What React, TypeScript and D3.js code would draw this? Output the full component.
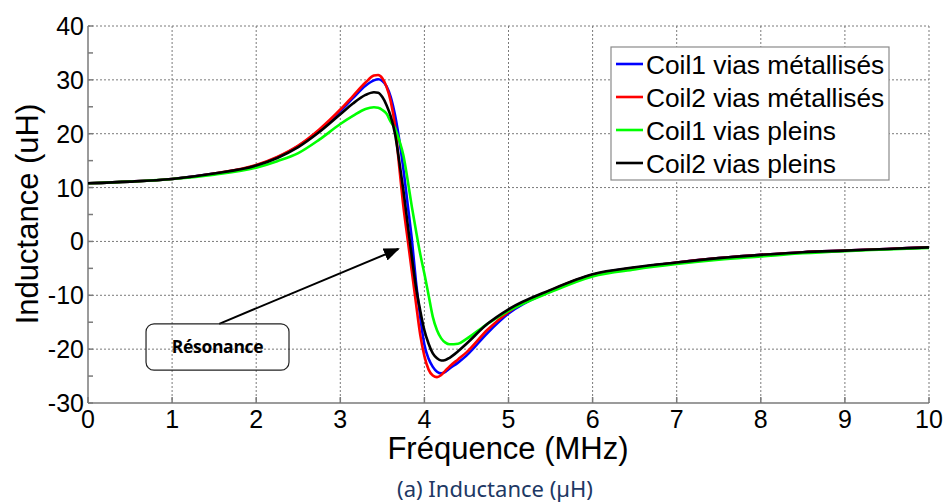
import * as d3 from 'd3';
import { useEffect, useRef } from 'react';

// frequency samples (MHz), shared by all four series
const freqs = [
  0, 0.5, 1, 1.5, 2, 2.25, 2.5, 2.75, 3, 3.15, 3.3, 3.4, 3.45, 3.5, 3.55, 3.6, 3.65, 3.7, 3.75, 3.8, 3.85, 3.9,
  3.95, 4, 4.05, 4.1, 4.15, 4.2, 4.25, 4.3, 4.4, 4.5, 4.75, 5, 5.5, 6, 6.5, 7, 7.5, 8, 8.5, 9, 9.5, 10,
];

// inductance (uH)
const coil1Metal = [
  10.8, 11.1, 11.6, 12.6, 14.1, 15.6, 17.7, 20.6, 24.2, 26.6, 28.9, 29.9, 30.1, 29.8, 28.8, 26.8, 23.5, 19.0, 13.5,
  7.0, 0.5, -7.5, -14.0, -19.2, -21.8, -23.3, -24.2, -24.5, -24.2, -23.6, -22.5, -21.2, -17.0, -13.4, -9.2, -6.2,
  -4.9, -3.9, -3.1, -2.5, -2.0, -1.7, -1.4, -1.1,
];
const coil2Metal = [
  10.8, 11.1, 11.6, 12.6, 14.2, 15.7, 17.8, 20.8, 24.5, 27.0, 29.5, 30.8, 30.9, 30.3, 28.7, 26.0, 21.5, 14.0, 6.5,
  0.5, -5.5, -11.5, -17.3, -21.3, -23.8, -24.9, -25.2, -24.8, -24.0, -23.2, -21.9, -20.6, -16.4, -13.1, -9.1, -6.2,
  -4.9, -3.9, -3.1, -2.5, -2.0, -1.7, -1.4, -1.1,
];
const coil1Plein = [
  10.8, 11.1, 11.6, 12.4, 13.7, 14.9, 16.4, 18.9, 21.8, 23.3, 24.6, 24.9, 24.8, 24.4, 23.7, 22.2, 21.0, 18.8, 16.0,
  11.5, 6.5, 2.0, -2.3, -6.0, -10.0, -14.0, -16.5, -18.0, -18.8, -19.1, -19.0, -18.1, -15.3, -12.9, -9.4, -6.5,
  -5.2, -4.2, -3.4, -2.8, -2.2, -1.8, -1.5, -1.2,
];
const coil2Plein = [
  10.8, 11.1, 11.6, 12.6, 14.1, 15.5, 17.5, 20.3, 23.6, 25.6, 27.2, 27.7, 27.6, 26.8, 25.3, 23.2, 20.0, 15.0, 9.5,
  3.3, -2.8, -8.5, -12.8, -16.5, -19.0, -20.8, -21.7, -22.1, -22.0, -21.6, -20.4, -19.0, -15.3, -12.6, -9.0, -6.1,
  -4.8, -3.9, -3.1, -2.5, -2.0, -1.7, -1.4, -1.1,
];

const seriesNames = ['Coil1 vias métallisés', 'Coil2 vias métallisés', 'Coil1 vias pleins', 'Coil2 vias pleins'];
const seriesValues = [coil1Metal, coil2Metal, coil1Plein, coil2Plein];
const seriesColors = ['#0000ff', '#ff0000', '#00ff00', '#000000'];

const xTicks = [0, 1, 2, 3, 4, 5, 6, 7, 8, 9, 10];
const yTicks = [-30, -20, -10, 0, 10, 20, 30, 40];
const yMinorTicks = [-25, -15, -5, 5, 15, 25, 35];

// annotation in data units (MHz, uH)
const noteText = 'Résonance';
const noteBox = { f0: 0.69, f1: 2.39, l0: -15.3, l1: -23.9 };
const noteArrow = { f0: 1.56, l0: -15.3, f1: 3.69, l1: -1.4 };

export default function App() {
  const svgRef = useRef<SVGSVGElement>(null);
  const width = 947;
  const height = 503;

  useEffect(() => {
    const margin = { top: 26, right: 18, bottom: 100, left: 88 };
    const svg = d3.select(svgRef.current);
    svg.selectAll('*').remove();

    const x = d3.scaleLinear().domain([0, 10]).range([margin.left, width - margin.right]);
    const y = d3.scaleLinear().domain([-30, 40]).range([height - margin.bottom, margin.top]);
    const font = '"Liberation Sans", Arial, sans-serif';

    svg.append('rect').attr('width', width).attr('height', height).attr('fill', '#fff');

    // dotted grid
    const grid = svg.append('g').attr('stroke', '#7a7a7a').attr('stroke-width', 1).attr('stroke-dasharray', '2,2');
    xTicks.slice(1).forEach((t) => {
      grid.append('line').attr('x1', x(t)).attr('x2', x(t)).attr('y1', y(40)).attr('y2', y(-30));
    });
    yTicks.slice(1).forEach((t) => {
      grid.append('line').attr('x1', x(0)).attr('x2', x(10)).attr('y1', y(t)).attr('y2', y(t));
    });

    // axes lines + inward ticks
    const axis = svg.append('g').attr('stroke', '#7a7a7a').attr('stroke-width', 1.5);
    axis.append('line').attr('x1', x(0)).attr('x2', x(0)).attr('y1', y(40)).attr('y2', y(-30));
    axis.append('line').attr('x1', x(0)).attr('x2', x(10)).attr('y1', y(-30)).attr('y2', y(-30));
    xTicks.forEach((t) => {
      axis.append('line').attr('x1', x(t)).attr('x2', x(t)).attr('y1', y(-30)).attr('y2', y(-30) - 6);
    });
    [...yTicks, ...yMinorTicks].forEach((t) => {
      axis.append('line').attr('x1', x(0)).attr('x2', x(0) + 5).attr('y1', y(t)).attr('y2', y(t));
    });

    // tick labels
    svg
      .append('g')
      .selectAll('text')
      .data(xTicks)
      .join('text')
      .attr('x', (d) => x(d))
      .attr('y', 428)
      .attr('text-anchor', 'middle')
      .attr('font-family', font)
      .attr('font-size', 25)
      .text((d) => d);
    svg
      .append('g')
      .selectAll('text')
      .data(yTicks)
      .join('text')
      .attr('x', 84)
      .attr('y', (d) => y(d) + 9)
      .attr('text-anchor', 'end')
      .attr('font-family', font)
      .attr('font-size', 25)
      .text((d) => d);

    // axis titles
    svg
      .append('text')
      .attr('x', 508)
      .attr('y', 459)
      .attr('text-anchor', 'middle')
      .attr('font-family', font)
      .attr('font-size', 31)
      .text('Fréquence (MHz)');
    svg
      .append('text')
      .attr('transform', 'translate(38,214) rotate(-90)')
      .attr('text-anchor', 'middle')
      .attr('font-family', font)
      .attr('font-size', 31)
      .text('Inductance (uH)');

    // curves
    const line = d3
      .line<number>()
      .x((_, i) => x(freqs[i]))
      .y((d) => y(d))
      .curve(d3.curveMonotoneX);
    seriesValues.forEach((vals, k) => {
      svg
        .append('path')
        .attr('d', line(vals))
        .attr('fill', 'none')
        .attr('stroke', seriesColors[k])
        .attr('stroke-width', 2.6)
        .attr('stroke-linejoin', 'round');
    });

    // legend
    const lg = svg.append('g');
    lg.append('rect')
      .attr('x', 611)
      .attr('y', 47)
      .attr('width', 278)
      .attr('height', 133)
      .attr('fill', '#fff')
      .attr('stroke', '#8a8a8a')
      .attr('stroke-width', 1.2);
    seriesNames.forEach((name, i) => {
      const cy = 64 + i * 33;
      lg.append('line')
        .attr('x1', 616)
        .attr('x2', 643)
        .attr('y1', cy)
        .attr('y2', cy)
        .attr('stroke', seriesColors[i])
        .attr('stroke-width', 2.6);
      lg.append('text')
        .attr('x', 646)
        .attr('y', cy + 9.5)
        .attr('font-family', font)
        .attr('font-size', 26.3)
        .text(name);
    });

    // resonance annotation
    const defs = svg.append('defs');
    defs
      .append('marker')
      .attr('id', 'arrowhead')
      .attr('viewBox', '0 0 10 10')
      .attr('refX', 9)
      .attr('refY', 5)
      .attr('markerWidth', 8)
      .attr('markerHeight', 8)
      .attr('markerUnits', 'strokeWidth')
      .attr('orient', 'auto')
      .append('path')
      .attr('d', 'M0,1 L10,5 L0,9 Z')
      .attr('fill', '#000');
    svg
      .append('line')
      .attr('x1', x(noteArrow.f0))
      .attr('y1', y(noteArrow.l0))
      .attr('x2', x(noteArrow.f1))
      .attr('y2', y(noteArrow.l1))
      .attr('stroke', '#000')
      .attr('stroke-width', 2)
      .attr('marker-end', 'url(#arrowhead)');
    svg
      .append('rect')
      .attr('x', x(noteBox.f0))
      .attr('y', y(noteBox.l0))
      .attr('width', x(noteBox.f1) - x(noteBox.f0))
      .attr('height', y(noteBox.l1) - y(noteBox.l0))
      .attr('rx', 8)
      .attr('fill', 'none')
      .attr('stroke', '#222')
      .attr('stroke-width', 1.2);
    svg
      .append('text')
      .attr('x', x((noteBox.f0 + noteBox.f1) / 2))
      .attr('y', y((noteBox.l0 + noteBox.l1) / 2) + 6)
      .attr('text-anchor', 'middle')
      .attr('font-family', '"Open Sans", "Noto Sans", sans-serif')
      .attr('font-weight', 700)
      .attr('font-size', 17.5)
      .attr('letter-spacing', -0.3)
      .text(noteText);

    // caption
    svg
      .append('text')
      .attr('x', 495)
      .attr('y', 497)
      .attr('text-anchor', 'middle')
      .attr('font-family', '"Noto Sans", "Open Sans", sans-serif')
      .attr('font-size', 22)
      .attr('fill', '#203864')
      .text('(a) Inductance (µH)');
  }, []);

  return (
    <div style={{ position: 'absolute', left: 0, top: 0, width, height }}>
      <svg ref={svgRef} width={width} height={height} style={{ display: 'block' }} />
    </div>
  );
}
